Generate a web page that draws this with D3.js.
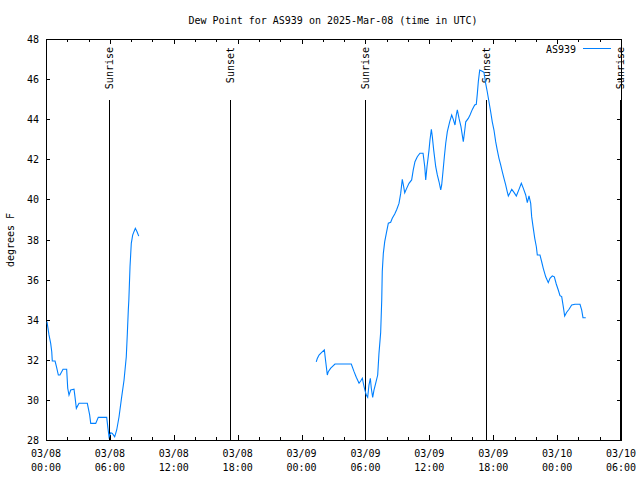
<!DOCTYPE html>
<html>
<head>
<meta charset="utf-8">
<script src="https://cdn.jsdelivr.net/npm/d3@7"></script>
<style>
  body { margin: 0; background: #fff; }
  svg { display: block; }
  text { font-family: "DejaVu Sans Mono", "Liberation Mono", monospace; font-size: 10px; fill: #000; }
</style>
</head>
<body>
<svg id="chart" width="640" height="480"></svg>
<script>
// ---- data ----
const title = "Dew Point for AS939 on 2025-Mar-08 (time in UTC)";
const seriesName = "AS939";
const yLabel = "degrees F";
const startUTC = Date.UTC(2025, 2, 8, 0, 0);   // 03/08 00:00 UTC
const endUTC = Date.UTC(2025, 2, 10, 6, 0);    // 03/10 06:00 UTC
const yTicks = [28, 30, 32, 34, 36, 38, 40, 42, 44, 46, 48];

// hours since 03/08 00:00 UTC (null value = gap in record)
const hours = [
  0.09, 0.28, 0.44, 0.54, 0.59, 0.85, 0.97, 1.16, 1.31, 1.60, 1.94, 2.04, 2.16, 2.32, 2.63, 2.72,
  2.85, 3.10, 3.88, 4.10, 4.20, 4.67, 4.91, 5.70, 5.82, 5.92, 6.08, 6.23, 6.45, 6.64, 6.86, 7.11,
  7.33, 7.54, 7.64, 7.73, 7.78, 7.89, 8.01, 8.14, 8.26, 8.39, 8.55, 8.71,
  17.0,
  25.38, 25.48, 25.64, 25.89, 26.14, 26.27, 26.42, 26.51, 26.74, 27.14, 28.67, 28.93, 29.14, 29.40,
  29.55, 29.71, 29.80, 29.93, 30.08, 30.21, 30.33, 30.46, 30.55, 30.68, 30.80, 30.96, 31.15, 31.27,
  31.43, 31.53, 31.58, 31.68, 31.81, 31.96, 32.15, 32.37, 32.52, 32.75, 32.94, 33.15, 33.31, 33.46,
  33.56, 33.69, 33.87, 34.09, 34.34, 34.49, 34.65, 34.87, 35.12, 35.41, 35.57, 35.66, 35.78, 35.88,
  35.97, 36.06, 36.19, 36.28, 36.41, 36.60, 36.75, 36.91, 37.07, 37.16, 37.28, 37.41, 37.54, 37.69,
  37.91, 38.10, 38.25, 38.41, 38.53, 38.63, 38.79, 38.97, 39.19, 39.35, 39.42, 39.66, 39.82, 40.04,
  40.26, 40.41, 40.51, 40.60, 40.73, 40.92, 41.13, 41.29, 41.44, 41.60, 41.76, 41.91, 42.07, 42.23,
  42.38, 42.54, 42.70, 42.85, 43.01, 43.17, 43.32, 43.42, 43.58, 43.74, 43.95, 44.17, 44.42, 44.64,
  44.83, 45.05, 45.20, 45.36, 45.52, 45.61, 45.74, 45.90, 46.05, 46.14, 46.39, 46.55, 46.70, 46.93,
  47.17, 47.33, 47.55, 47.74, 47.92, 48.11, 48.27, 48.43, 48.58, 48.71, 48.90, 49.12, 49.37, 49.68,
  50.15, 50.31, 50.43, 50.69
];
const dewPoint = [
  33.9, 33.24, 32.82, 32.4, 31.94, 31.94, 31.69, 31.24, 31.24, 31.53, 31.53, 30.58, 30.24, 30.49, 30.53, 30.16,
  29.58, 29.83, 29.83, 29.25, 28.83, 28.83, 29.13, 29.13, 28.58, 28.16, 28.36, 28.33, 28.16, 28.5, 29.16, 30.16,
  30.99, 32.15, 33.32, 34.48, 34.98, 36.64, 37.81, 38.22, 38.39, 38.56, 38.39, 38.17,
  null,
  31.9, 32.07, 32.24, 32.37, 32.49, 31.9, 31.24, 31.41, 31.58, 31.79, 31.79, 31.41, 31.13, 30.83,
  30.94, 31.08, 30.83, 30.53, 30.24, 30.13, 30.74, 31.08, 30.58, 30.13, 30.49, 30.83, 31.24, 32.32,
  33.36, 34.98, 36.4, 37.31, 37.89, 38.31, 38.81, 38.86, 39.06, 39.27, 39.5, 39.8, 40.3, 41.0,
  40.72, 40.33, 40.55, 40.8, 40.97, 41.47, 41.88, 42.13, 42.3, 42.3, 41.63, 40.97, 41.63, 42.05,
  42.46, 42.96, 43.5, 43.13, 42.46, 41.63, 41.22, 40.88, 40.47, 40.72, 41.38, 42.13, 42.8, 43.38,
  43.87, 44.21, 43.99, 43.71, 44.21, 44.46, 44.04, 43.63, 42.88, 43.55, 43.87, 44.04, 44.21, 44.49,
  44.71, 44.74, 45.29, 45.87, 46.45, 46.4, 46.34, 45.79, 45.37, 44.87, 44.37, 43.87, 43.46, 42.88,
  42.46, 42.05, 41.72, 41.38, 41.05, 40.72, 40.38, 40.17, 40.33, 40.5, 40.35, 40.17, 40.5, 40.8,
  40.55, 40.22, 39.84, 40.17, 39.8, 39.14, 38.64, 38.06, 37.64, 37.23, 37.23, 36.89, 36.56, 36.14,
  35.85, 36.06, 36.18, 36.14, 35.78, 35.48, 35.2, 35.15, 34.65, 34.18, 34.37, 34.52, 34.73, 34.77,
  34.77, 34.48, 34.1, 34.1
];

// sunrise / sunset markers (hours since 03/08 00:00 UTC)
const sunLabels = ["Sunrise", "Sunset", "Sunrise", "Sunset", "Sunrise"];
const sunHours = [5.92, 17.28, 29.96, 41.32, 53.93];

// ---- layout ----
const M = { left: 46, right: 621, top: 39, bottom: 440 };
const color = "#0080ff";
const svg = d3.select("#chart");

const x = d3.scaleUtc().domain([new Date(startUTC), new Date(endUTC)]).range([M.left, M.right]);
const y = d3.scaleLinear().domain([28, 48]).range([M.bottom, M.top]);
const toDate = h => new Date(startUTC + h * 3600e3);

// title
svg.append("text").attr("x", 333).attr("y", 24).attr("text-anchor", "middle").text(title);

// y axis label
svg.append("text").attr("transform", "translate(14,240) rotate(-90)")
  .attr("text-anchor", "middle").text(yLabel);

const majorX = d3.utcHour.every(6).range(new Date(startUTC), new Date(endUTC + 1));
const minorX = d3.utcHour.every(2).range(new Date(startUTC), new Date(endUTC + 1));

// bottom axis
const bottom = svg.append("g").attr("transform", `translate(0,${M.bottom})`)
  .call(d3.axisBottom(x).tickValues(majorX).tickSize(-5).tickFormat(""));
bottom.select(".domain").remove();
svg.append("g").attr("transform", `translate(0,${M.bottom})`)
  .call(d3.axisBottom(x).tickValues(minorX).tickSize(-3).tickFormat(""))
  .select(".domain").remove();
// top axis
svg.append("g").attr("transform", `translate(0,${M.top})`)
  .call(d3.axisTop(x).tickValues(majorX).tickSize(-5).tickFormat(""))
  .select(".domain").remove();
svg.append("g").attr("transform", `translate(0,${M.top})`)
  .call(d3.axisTop(x).tickValues(minorX).tickSize(-3).tickFormat(""))
  .select(".domain").remove();
// left / right axes
const left = svg.append("g").attr("transform", `translate(${M.left},0)`)
  .call(d3.axisLeft(y).tickValues(yTicks).tickSize(-4).tickPadding(10).tickFormat(d3.format("d")));
left.select(".domain").remove();
svg.append("g").attr("transform", `translate(${M.right},0)`)
  .call(d3.axisRight(y).tickValues(yTicks).tickSize(-4).tickFormat(""))
  .select(".domain").remove();

svg.selectAll("g.tick line").attr("stroke", "#000").attr("shape-rendering", "crispEdges");
svg.selectAll("g text").attr("font-family", null).attr("font-size", null).attr("fill", "#000");
left.selectAll(".tick text").attr("x", -7).attr("dy", "0.35em");

// x tick labels (two lines)
const fmtD = d3.utcFormat("%m/%d"), fmtT = d3.utcFormat("%H:%M");
const xl = svg.append("g").selectAll("text").data(majorX).join("text")
  .attr("text-anchor", "middle").attr("transform", d => `translate(${x(d)},0)`);
xl.append("tspan").attr("x", 0).attr("y", 457).text(d => fmtD(d));
xl.append("tspan").attr("x", 0).attr("y", 471).text(d => fmtT(d));

// frame
svg.append("rect").attr("x", M.left).attr("y", M.top)
  .attr("width", M.right - M.left).attr("height", M.bottom - M.top)
  .attr("fill", "none").attr("stroke", "#000").attr("shape-rendering", "crispEdges");

// sunrise / sunset markers
const sun = svg.append("g").selectAll("g").data(sunHours.map((h, i) => ({ h, label: sunLabels[i] })))
  .join("g");
sun.append("line")
  .attr("x1", d => Math.round(x(toDate(d.h))) + 0.5).attr("x2", d => Math.round(x(toDate(d.h))) + 0.5)
  .attr("y1", 100).attr("y2", M.bottom)
  .attr("stroke", "#000").attr("stroke-width", 1);
sun.append("text")
  .attr("transform", d => `translate(${Math.round(x(toDate(d.h))) + 4},47) rotate(-90)`)
  .attr("text-anchor", "end").text(d => d.label);

// data line
const pts = hours.map((h, i) => ({ t: toDate(h), v: dewPoint[i] }));
const line = d3.line().defined(d => d.v !== null).x(d => x(d.t)).y(d => y(d.v));
svg.append("path").datum(pts).attr("d", line)
  .attr("fill", "none").attr("stroke", color).attr("stroke-width", 1.1);

// legend
svg.append("text").attr("x", 576).attr("y", 53).attr("text-anchor", "end").text(seriesName);
svg.append("line").attr("x1", 583).attr("x2", 611).attr("y1", 48.5).attr("y2", 48.5)
  .attr("stroke", color).attr("stroke-width", 1);
</script>
</body>
</html>
